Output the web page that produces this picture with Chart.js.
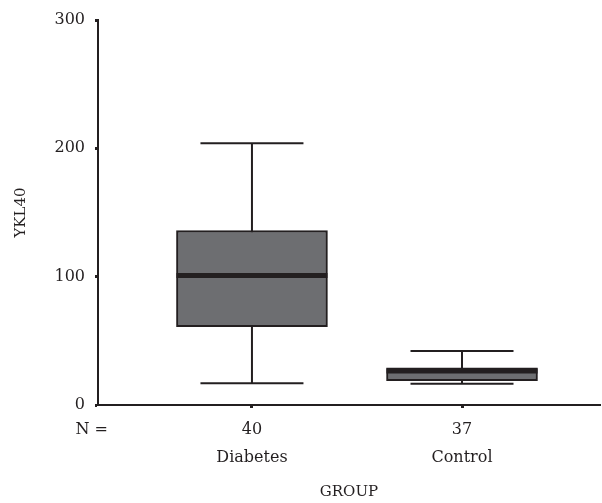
<!DOCTYPE html>
<html>
<head>
<meta charset="utf-8">
<script src="https://cdn.jsdelivr.net/npm/chart.js@4"></script>
<style>
html,body{margin:0;padding:0;background:#fff;}
#wrap{width:602px;height:503px;position:relative;}
</style>
</head>
<body>
<div id="wrap"><canvas id="c" width="602" height="503"></canvas></div>
<script>
// ---- data ----
const groups = ['Diabetes', 'Control'];
const counts = ['40', '37'];
const positions = [1, 2];
const whiskerLow = [17, 16.5];
const q1 = [61, 19];
const median = [101, 26.5];
const q3 = [136, 29];
const whiskerHigh = [204, 42];
const yTicks = [0, 100, 200, 300];

const ink = '#231f20';
const boxFill = '#6d6e71';
const FONT = "'DejaVu Serif', 'Liberation Serif', serif";

const boxData = positions.map((p, i) => ({x: p, y: [q1[i], q3[i]]}));
const medianData = positions.map((p, i) => ({x: p, y: median[i]}));
const capData = [];
positions.forEach((p, i) => { capData.push({x: p, y: whiskerLow[i]}); capData.push({x: p, y: whiskerHigh[i]}); });
const stemData = [];
positions.forEach((p, i) => {
  stemData.push({x: p, y: whiskerLow[i]});
  stemData.push({x: p, y: whiskerHigh[i]});
  stemData.push({x: p, y: null});
});

const nLabelPlugin = {
  id: 'nLabel',
  afterDraw(chart) {
    const ctx = chart.ctx;
    const xs = chart.scales.x;
    ctx.save();
    ctx.font = '16px ' + FONT;
    ctx.fillStyle = ink;
    ctx.textAlign = 'right';
    ctx.textBaseline = 'middle';
    ctx.fillText('N =', xs.left + 10, xs.top + 25);
    ctx.restore();
  }
};

new Chart(document.getElementById('c'), {
  data: {
    datasets: [
      {
        type: 'scatter',
        data: medianData,
        pointStyle: 'line',
        pointRadius: 75.5,
        pointHoverRadius: 75.5,
        borderColor: ink,
        borderWidth: 5,
        clip: false,
        order: 1
      },
      {
        type: 'bar',
        data: boxData,
        backgroundColor: boxFill,
        borderColor: ink,
        borderWidth: 2,
        borderSkipped: false,
        barThickness: 151,
        order: 2
      },
      {
        type: 'scatter',
        data: capData,
        pointStyle: 'line',
        pointRadius: 51.5,
        pointHoverRadius: 51.5,
        borderColor: ink,
        borderWidth: 2,
        clip: false,
        order: 3
      },
      {
        type: 'scatter',
        data: stemData,
        showLine: true,
        spanGaps: false,
        pointRadius: 0,
        borderColor: ink,
        borderWidth: 2,
        order: 4
      }
    ]
  },
  options: {
    responsive: false,
    animation: false,
    events: [],
    layout: {autoPadding: false, padding: {top: 20, right: 2, bottom: 0, left: 0}},
    plugins: {legend: {display: false}, tooltip: {enabled: false}},
    scales: {
      x: {
        type: 'linear',
        min: 0.267,
        max: 2.657,
        offset: false,
        afterBuildTicks: (s) => { s.ticks = positions.map(v => ({value: v})); },
        afterFit: (s) => { s.height = 98; },
        ticks: {
          color: ink,
          font: {family: FONT, size: 16, lineHeight: 1.75},
          padding: 8,
          maxRotation: 0,
          autoSkip: false,
          callback: (v) => { const i = positions.indexOf(v); return i >= 0 ? [counts[i], groups[i]] : ''; }
        },
        grid: {offset: false, drawOnChartArea: false, drawTicks: true, tickLength: 3, tickWidth: 3, color: ink},
        border: {display: true, color: ink, width: 2},
        title: {display: true, text: 'GROUP', color: ink, font: {family: FONT, size: 15}, padding: {top: 0, bottom: 2}}
      },
      y: {
        type: 'linear',
        min: 0,
        max: 300,
        afterBuildTicks: (s) => { s.ticks = yTicks.map(v => ({value: v})); },
        afterFit: (s) => { s.width = 98; },
        ticks: {color: ink, font: {family: FONT, size: 16}, padding: 10},
        grid: {offset: false, drawOnChartArea: false, drawTicks: true, tickLength: 3, tickWidth: 3, color: ink},
        border: {display: true, color: ink, width: 2},
        title: {display: true, text: 'YKL40', color: ink, font: {family: FONT, size: 15}, padding: {top: 12, bottom: 0}}
      }
    }
  },
  plugins: [nLabelPlugin]
});
</script>
</body>
</html>
